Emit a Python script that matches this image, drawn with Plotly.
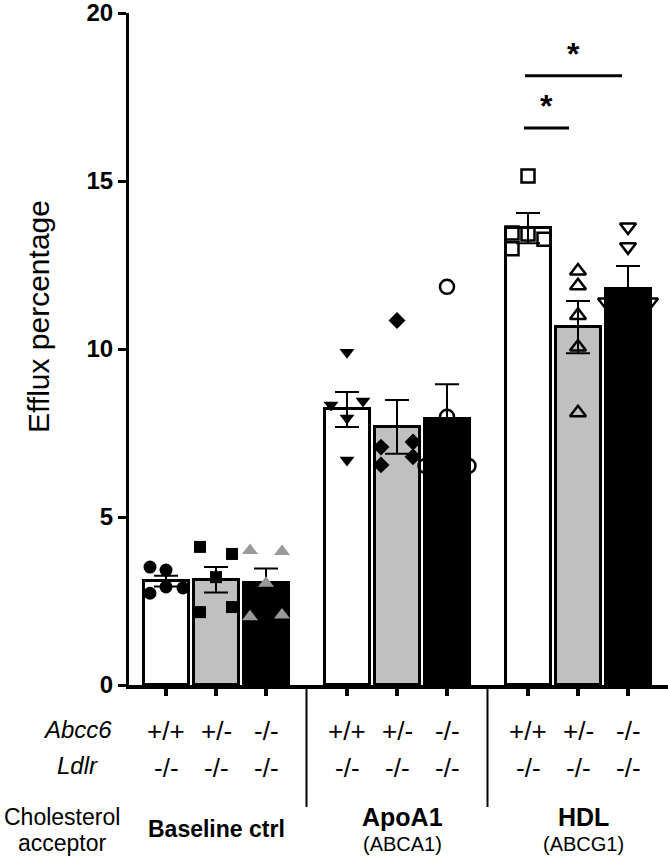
import plotly.graph_objects as go

# ---------------- data ----------------
acceptors = ["Baseline ctrl", "ApoA1", "HDL"]
acceptor_sub = ["", "(ABCA1)", "(ABCG1)"]
abcc6 = ["+/+", "+/-", "-/-"]
ldlr = ["-/-", "-/-", "-/-"]

means = [3.09, 3.13, 3.04, 8.20, 7.68, 7.92, 13.60, 10.65, 11.79]
sems = [0.16, 0.38, 0.43, 0.52, 0.80, 1.03, 0.45, 0.78, 0.68]

pts_base_wt = [3.51, 3.42, 2.92, 2.73, 2.89]
pts_base_het = [4.11, 3.90, 3.21, 2.17, 2.32]
pts_base_ko = [4.00, 3.97, 3.03, 2.03, 2.08]
pts_apoa1_wt = [9.90, 8.33, 8.45, 7.95, 6.70]
pts_apoa1_het = [10.85, 7.08, 7.23, 6.55, 6.79]
pts_apoa1_ko = [11.85, 7.98, 6.52, 6.52, 6.70]
pts_hdl_wt = [15.15, 13.45, 13.42, 13.27, 12.98]
pts_hdl_het = [12.32, 11.88, 11.00, 10.06, 8.10]
pts_hdl_ko = [13.63, 13.04, 11.40, 11.40, 9.48]

points = [pts_base_wt, pts_base_het, pts_base_ko,
          pts_apoa1_wt, pts_apoa1_het, pts_apoa1_ko,
          pts_hdl_wt, pts_hdl_het, pts_hdl_ko]

# ---------------- layout / style ----------------
FONT = "Liberation Sans, Arial, sans-serif"
W, H = 668, 858
L, T, R, B = 129, 13, 0, 173
PW, PH = W - L - R, H - T - B

def px_x(px):
    return (px - L) / PW

def px_y(py):
    return (T + PH - py) / PH

GROUP_STEP = 3.62
xpos = [g * GROUP_STEP + i for g in range(3) for i in range(3)]

bar_colors = ["white", "#c0c0c0", "black"] * 3

# horizontal scatter of the dots (in bar-spacing units)
jitter = [
    [-0.32, 0.0, 0.0, -0.32, 0.34],
    [-0.32, 0.32, 0.0, -0.32, 0.32],
    [-0.32, 0.32, 0.0, -0.32, 0.32],
    [0.0, -0.32, 0.32, 0.0, 0.0],
    [0.0, -0.32, 0.32, -0.32, 0.32],
    [0.0, 0.0, -0.43, 0.43, 0.0],
    [0.0, -0.32, 0.0, 0.32, -0.32],
    [0.0, 0.0, 0.0, 0.0, 0.0],
    [0.0, 0.0, -0.44, 0.44, 0.0],
]

marker_styles = [
    dict(symbol="circle", size=13, color="black"),
    dict(symbol="square", size=12, color="black"),
    dict(symbol="triangle-up", size=14, color="#999999"),
    dict(symbol="triangle-down", size=13, color="black"),
    dict(symbol="diamond", size=13, color="black"),
    dict(symbol="circle-open", size=14, color="black", line=dict(width=2.5, color="black")),
    dict(symbol="square-open", size=13, color="black", line=dict(width=2.5, color="black")),
    dict(symbol="triangle-up-open", size=14, color="black", line=dict(width=2.5, color="black")),
    dict(symbol="triangle-down-open", size=14, color="black", line=dict(width=2.5, color="black")),
]

fig = go.Figure()

fig.add_trace(go.Bar(
    x=xpos, y=means, width=[0.9] * 9,
    marker=dict(color=bar_colors, line=dict(color="black", width=3)),
    error_y=dict(type="data", array=sems, visible=True, color="black",
                 thickness=2, width=12),
    showlegend=False, hoverinfo="skip",
))

for k in range(9):
    xs = [xpos[k] + j for j in jitter[k]]
    fig.add_trace(go.Scatter(
        x=xs, y=points[k], mode="markers", marker=marker_styles[k],
        showlegend=False, cliponaxis=False, hoverinfo="skip",
    ))

shapes = []
# group separators below the axis
for g in range(2):
    xm = (xpos[3 * g + 2] + xpos[3 * g + 3]) / 2
    shapes.append(dict(type="line", xref="x", yref="paper", x0=xm, x1=xm,
                       y0=0, y1=px_y(807), line=dict(color="black", width=2)))

# significance brackets
sig = [
    (xpos[6] - 0.08, xpos[7] - 0.18, 16.58),
    (xpos[6] - 0.06, xpos[8] - 0.12, 18.13),
]
for x0, x1, yl in sig:
    shapes.append(dict(type="line", xref="x", yref="y", x0=x0, x1=x1, y0=yl, y1=yl,
                       line=dict(color="black", width=3)))

annotations = []
for x0, x1, yl in sig:
    annotations.append(dict(x=(x0 + x1) / 2, y=yl, xref="x", yref="y", text="<b>*</b>",
                            showarrow=False, xanchor="center", yanchor="bottom", yshift=2,
                            font=dict(family=FONT, size=32, color="black")))

# genotype rows
for g in range(3):
    for i in range(3):
        k = 3 * g + i
        annotations.append(dict(x=xpos[k], y=px_y(731), xref="x", yref="paper",
                                text=abcc6[i], showarrow=False, xanchor="center",
                                yanchor="middle",
                                font=dict(family=FONT, size=26, color="black")))
        annotations.append(dict(x=xpos[k], y=px_y(768), xref="x", yref="paper",
                                text=ldlr[i], showarrow=False, xanchor="center",
                                yanchor="middle",
                                font=dict(family=FONT, size=26, color="black")))

def side_label(text, cx, cy, size):
    annotations.append(dict(x=px_x(cx), y=px_y(cy), xref="paper", yref="paper",
                            text=text, showarrow=False, xanchor="center",
                            yanchor="middle",
                            font=dict(family=FONT, size=size, color="black")))

side_label("<i>Abcc6</i>", 77, 729, 24)
side_label("<i>Ldlr</i>", 77, 766, 24)
side_label("Cholesterol", 62, 817, 23)
side_label("acceptor", 62, 843, 23)

# acceptor names
annotations.append(dict(x=xpos[1], y=px_y(829), xref="x", yref="paper",
                        text="<b>" + acceptors[0] + "</b>", showarrow=False,
                        xanchor="center", yanchor="middle",
                        font=dict(family=FONT, size=23, color="black")))
for g in (1, 2):
    annotations.append(dict(x=xpos[3 * g + 1] + 0.1, y=px_y(817), xref="x", yref="paper",
                            text="<b>" + acceptors[g] + "</b>", showarrow=False,
                            xanchor="center", yanchor="middle",
                            font=dict(family=FONT, size=25, color="black")))
    annotations.append(dict(x=xpos[3 * g + 1] + 0.1, y=px_y(844), xref="x", yref="paper",
                            text=acceptor_sub[g], showarrow=False,
                            xanchor="center", yanchor="middle",
                            font=dict(family=FONT, size=20, color="black")))

# y-axis title
annotations.append(dict(x=px_x(39), y=px_y(317), xref="paper", yref="paper",
                        text="Efflux percentage", textangle=-90, showarrow=False,
                        xanchor="center", yanchor="middle",
                        font=dict(family=FONT, size=30, color="black")))

fig.update_layout(
    width=W, height=H,
    margin=dict(l=L, r=R, t=T, b=B, pad=0),
    paper_bgcolor="white", plot_bgcolor="white",
    shapes=shapes, annotations=annotations,
    bargap=0,
    font=dict(family=FONT, color="black"),
)

fig.update_xaxes(
    range=[-(166 - L) / 50, -(166 - L) / 50 + PW / 50],
    showgrid=False, zeroline=False,
    showline=True, linecolor="black", linewidth=4,
    tickmode="array", tickvals=xpos, ticks="outside", ticklen=7, tickwidth=4,
    tickcolor="black", showticklabels=False,
)
fig.update_yaxes(
    range=[0, 20], showgrid=False, zeroline=False,
    showline=True, linecolor="black", linewidth=3,
    tickmode="array", tickvals=[0, 5, 10, 15, 20], ticks="outside",
    ticklen=8, tickwidth=3, tickcolor="black",
    tickfont=dict(family=FONT, size=24, color="black", weight="bold"),
    ticklabeloverflow="allow",
)

fig.write_html("out.html", config={"displayModeBar": False},
               post_script="document.body.style.margin='0';")
